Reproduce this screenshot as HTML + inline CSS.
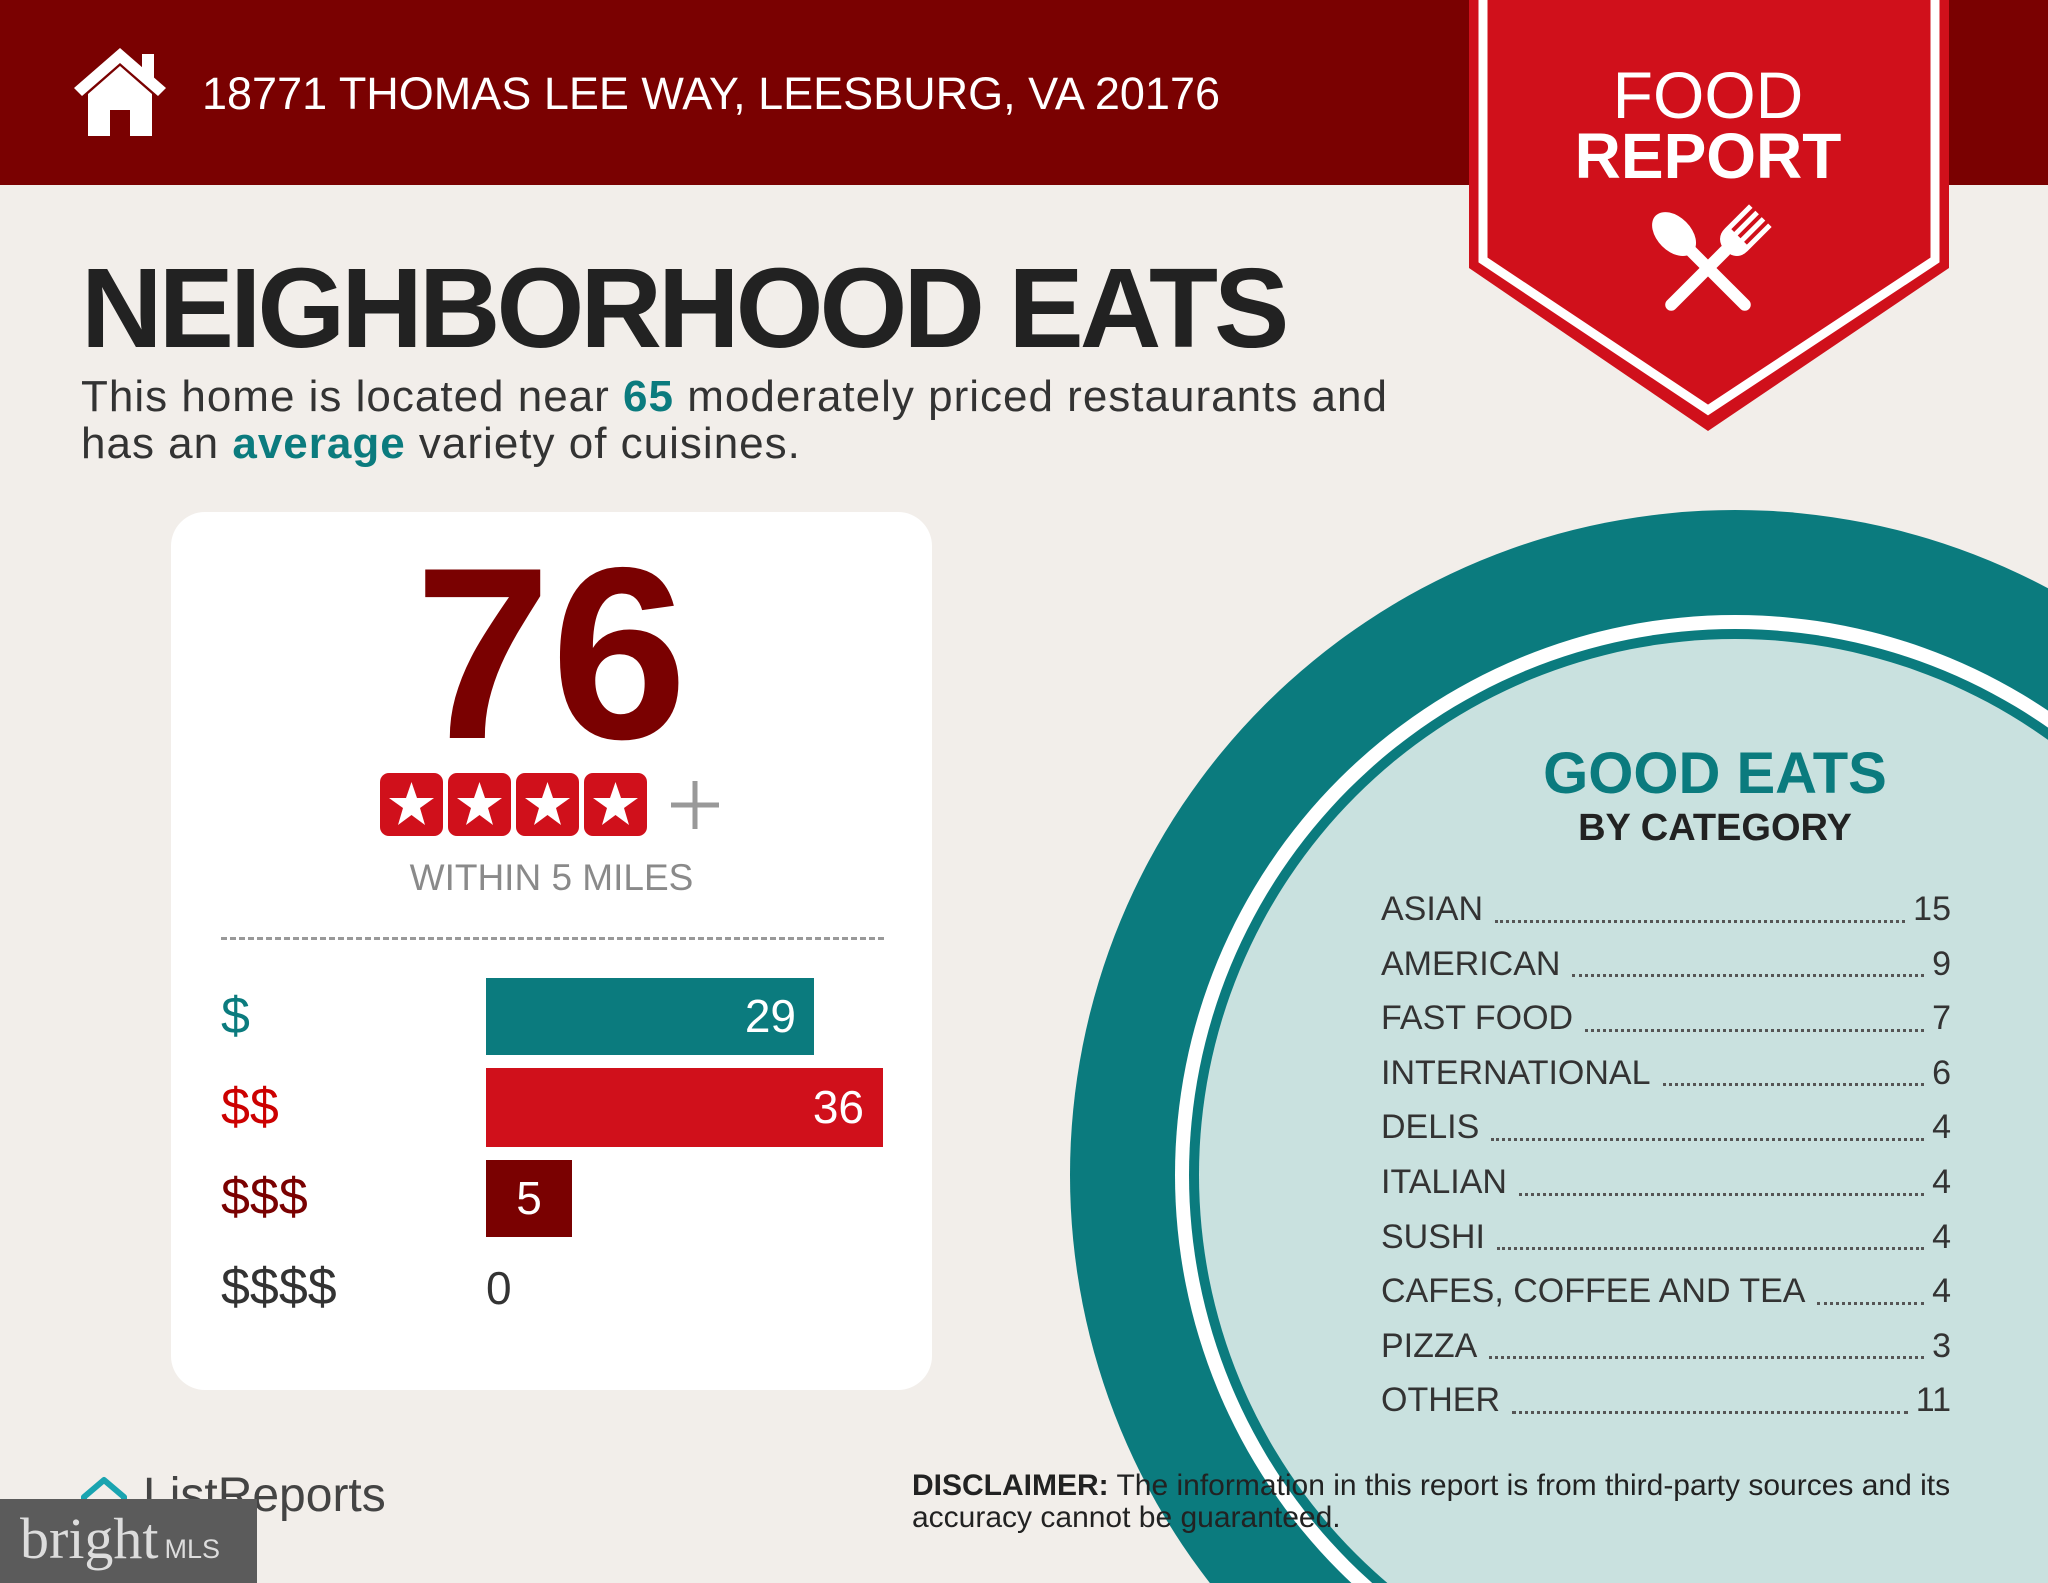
<!DOCTYPE html>
<html><head><meta charset="utf-8"><style>
*{margin:0;padding:0;box-sizing:border-box}
html,body{width:2048px;height:1583px;overflow:hidden}
body{background:#f2eeea;position:relative;font-family:"Liberation Sans",sans-serif}
.a{position:absolute;white-space:nowrap}
</style></head><body>
<div class="a" style="left:0;top:0;width:2048px;height:185px;background:#7a0101"></div>
<svg class="a" style="left:70px;top:44px" width="100" height="96" viewBox="0 0 100 96">
<path d="M50 4 L96 44 L88 52 L50 19 L12 52 L4 44 Z" fill="#fff"/>
<path d="M72 10 h12 v26 l-12 -10z" fill="#fff"/>
<path d="M18 50 L50 22 L82 50 V92 H60 V66 H40 V92 H18 Z" fill="#fff"/>
</svg>
<div class="a" style="left:202px;top:66px;font-size:45px;color:#fff;line-height:56px">18771 THOMAS LEE WAY, LEESBURG, VA 20176</div>

<svg class="a" style="left:0;top:0" width="2048" height="1583">
<circle cx="1735" cy="1175" r="665" fill="#0b7b7e"/>
<circle cx="1735" cy="1175" r="560" fill="#fff"/>
<circle cx="1735" cy="1175" r="546" fill="#0b7b7e"/>
<circle cx="1735" cy="1175" r="536" fill="#c9e1df"/>
</svg>

<svg class="a" style="left:1469px;top:0" width="482" height="435" viewBox="0 0 482 435">
<path d="M0 0 H480 V268 L239 431 L0 268 Z" fill="#d0101b"/>
<path d="M14 0 V260 L239 410 L466 260 V0" fill="none" stroke="#fff" stroke-width="9"/>
<text x="239" y="118" text-anchor="middle" font-family="Liberation Sans" font-size="66" fill="#fff">FOOD</text>
<text x="239" y="178" text-anchor="middle" font-family="Liberation Sans" font-weight="bold" font-size="64" fill="#fff">REPORT</text>
<g transform="translate(239,268)">
<g transform="rotate(-45)"><ellipse cx="0" cy="-48" rx="17" ry="26" fill="#fff"/><rect x="-6" y="-30" width="12" height="88" rx="6" fill="#fff"/></g>
<g transform="rotate(45)"><rect x="-6" y="-30" width="12" height="88" rx="6" fill="#fff"/><path d="M-16 -74 V-40 Q-16 -26 0 -24 Q16 -26 16 -40 V-74 h-5 v30 h-4 v-30 h-5 v30 h-4 v-30 h-5 v30 h-4 v-30 z" fill="#fff"/></g>
</g>
</svg>

<div class="a" style="left:81px;top:248px;font-size:113px;font-weight:bold;color:#222;letter-spacing:-4px;line-height:120px">NEIGHBORHOOD EATS</div>
<div class="a" style="left:81px;top:373px;font-size:44px;color:#333;line-height:47px;letter-spacing:1px">This home is located near <b style="color:#0b7b7e">65</b> moderately priced restaurants and<br>has an <b style="color:#0b7b7e">average</b> variety of cuisines.</div>

<div class="a" style="left:171px;top:512px;width:761px;height:878px;background:#fff;border-radius:34px"></div>
<div class="a" style="left:351px;top:528px;width:400px;text-align:center;font-size:245px;font-weight:bold;color:#7a0101;line-height:250px">76</div>
<svg class="a" style="left:380px;top:773px" width="340" height="64">
<g fill="#d0101b">
<rect x="0" y="0" width="63" height="63" rx="9"/><rect x="68" y="0" width="63" height="63" rx="9"/><rect x="136" y="0" width="63" height="63" rx="9"/><rect x="204" y="0" width="63" height="63" rx="9"/></g>
<g fill="#fff">
<polygon id="s" points="31.5,9 37,25 54,25 40,35 45,52 31.5,42 18,52 23,35 9,25 26,25"/>
<use href="#s" x="68"/><use href="#s" x="136"/><use href="#s" x="204"/></g>
<path d="M315 8 V56 M291 32 H339" stroke="#999" stroke-width="5"/>
</svg>
<div class="a" style="left:171px;top:856px;width:761px;text-align:center;font-size:37px;color:#8a8a8a;line-height:44px">WITHIN 5 MILES</div>
<div class="a" style="left:221px;top:937px;width:663px;border-top:3px dashed #999"></div>

<div class="a" style="left:221px;top:986px;font-size:52px;color:#0b7b7e;line-height:60px">$</div>
<div class="a" style="left:486px;top:978px;width:328px;height:77px;background:#0b7b7e"></div>
<div class="a" style="left:486px;top:986px;width:310px;text-align:right;font-size:46px;color:#fff;line-height:60px">29</div>

<div class="a" style="left:221px;top:1077px;font-size:52px;color:#c00;line-height:60px">$$</div>
<div class="a" style="left:486px;top:1068px;width:397px;height:79px;background:#d0101b"></div>
<div class="a" style="left:486px;top:1077px;width:378px;text-align:right;font-size:46px;color:#fff;line-height:60px">36</div>

<div class="a" style="left:221px;top:1167px;font-size:52px;color:#7a0101;line-height:60px">$$$</div>
<div class="a" style="left:486px;top:1160px;width:86px;height:77px;background:#7a0101"></div>
<div class="a" style="left:486px;top:1168px;width:86px;text-align:center;font-size:46px;color:#fff;line-height:60px">5</div>

<div class="a" style="left:221px;top:1257px;font-size:52px;color:#333;line-height:60px">$$$$</div>
<div class="a" style="left:486px;top:1258px;font-size:46px;color:#333;line-height:60px">0</div>

<div class="a" style="left:1415px;top:742px;width:600px;text-align:center;font-size:58px;font-weight:bold;color:#0b7b7e;line-height:64px">GOOD EATS</div>
<div class="a" style="left:1415px;top:806px;width:600px;text-align:center;font-size:38px;font-weight:bold;color:#222;line-height:44px">BY CATEGORY</div>
<div class="a" style="left:1381px;top:882px;width:570px;font-size:34px;color:#333;line-height:54.6px">
<div style="display:flex"><span>ASIAN</span><span style="flex:1;border-bottom:3px dotted #555;margin:0 8px 14px 12px"></span><span>15</span></div>
<div style="display:flex"><span>AMERICAN</span><span style="flex:1;border-bottom:3px dotted #555;margin:0 8px 14px 12px"></span><span>9</span></div>
<div style="display:flex"><span>FAST FOOD</span><span style="flex:1;border-bottom:3px dotted #555;margin:0 8px 14px 12px"></span><span>7</span></div>
<div style="display:flex"><span>INTERNATIONAL</span><span style="flex:1;border-bottom:3px dotted #555;margin:0 8px 14px 12px"></span><span>6</span></div>
<div style="display:flex"><span>DELIS</span><span style="flex:1;border-bottom:3px dotted #555;margin:0 8px 14px 12px"></span><span>4</span></div>
<div style="display:flex"><span>ITALIAN</span><span style="flex:1;border-bottom:3px dotted #555;margin:0 8px 14px 12px"></span><span>4</span></div>
<div style="display:flex"><span>SUSHI</span><span style="flex:1;border-bottom:3px dotted #555;margin:0 8px 14px 12px"></span><span>4</span></div>
<div style="display:flex"><span>CAFES, COFFEE AND TEA</span><span style="flex:1;border-bottom:3px dotted #555;margin:0 8px 14px 12px"></span><span>4</span></div>
<div style="display:flex"><span>PIZZA</span><span style="flex:1;border-bottom:3px dotted #555;margin:0 8px 14px 12px"></span><span>3</span></div>
<div style="display:flex"><span>OTHER</span><span style="flex:1;border-bottom:3px dotted #555;margin:0 8px 14px 12px"></span><span>11</span></div>
</div>

<div class="a" style="left:912px;top:1470px;font-size:30px;color:#222;line-height:32px"><b>DISCLAIMER:</b> The information in this report is from third-party sources and its<br>accuracy cannot be guaranteed.</div>

<svg class="a" style="left:78px;top:1475px" width="52" height="50"><path d="M6 22 L26 5 L46 22 V44 H6 Z" fill="none" stroke="#1aa4b0" stroke-width="6" stroke-linejoin="round"/></svg>
<div class="a" style="left:143px;top:1468px;font-size:48px;color:#444;line-height:56px">ListReports</div>
<div class="a" style="left:0;top:1499px;width:257px;height:84px;background:#5b5b5b"></div>
<div class="a" style="left:20px;top:1508px;font-family:'Liberation Serif',serif;font-size:58px;color:#ddd;line-height:62px">bright<span style="font-family:'Liberation Sans',sans-serif;font-size:27px;margin-left:6px">MLS</span></div>
</body></html>
